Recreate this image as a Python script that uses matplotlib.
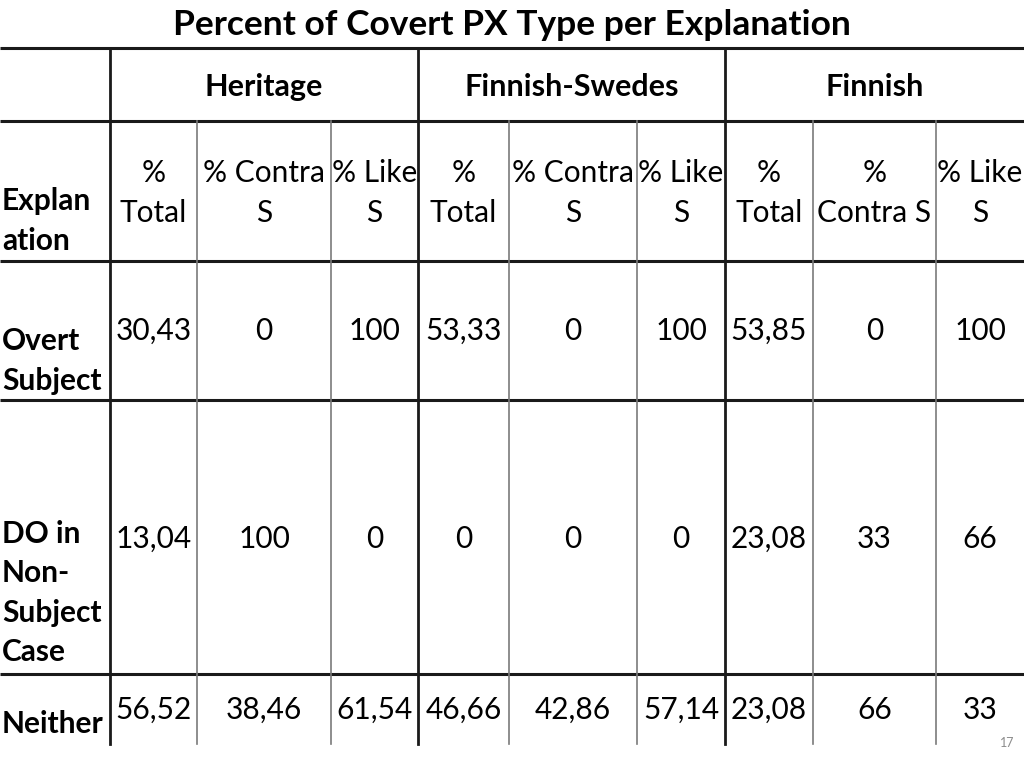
import matplotlib
matplotlib.use("Agg")
import matplotlib.pyplot as plt

plt.rcParams['font.family'] = ['Lato', 'DejaVu Sans']

# Table content
title = "Percent of Covert PX Type per Explanation"
groups = ["Heritage", "Finnish-Swedes", "Finnish"]
sub_heads = ["%\nTotal", "% Contra\nS", "% Like\nS",
             "%\nTotal", "% Contra\nS", "% Like\nS",
             "%\nTotal", "%\nContra S", "% Like\nS"]
row_labels = ["Overt\nSubject", "DO in\nNon-\nSubject\nCase", "Neither"]
heritage = [["30,43", "0", "100"], ["13,04", "100", "0"], ["56,52", "38,46", "61,54"]]
fin_swedes = [["53,33", "0", "100"], ["0", "0", "0"], ["46,66", "42,86", "57,14"]]
finnish = [["53,85", "0", "100"], ["23,08", "33", "66"], ["23,08", "66", "33"]]
page_no = "17"

# layout in pixels
col_x = [0, 110, 197, 331, 418, 509, 637, 725, 813, 936, 1024]
row_y = [48, 121, 261, 400, 674, 744]
thick = "#1a1a1a"
thin = "#7a7a7a"

fig = plt.figure(figsize=(10.24, 7.68), dpi=100)
ax = fig.add_axes([0, 0, 1, 1])
ax.set_xlim(0, 1024)
ax.set_ylim(768, 0)
ax.axis("off")

ax.text(512, 25, title, ha="center", va="center", fontsize=25.5, fontweight="bold")

# horizontal rules
for y in row_y[:-1]:
    ax.plot([0, 1024], [y, y], color=thick, lw=2.2, solid_capstyle="butt")
# vertical rules
for i, x in enumerate(col_x[1:-1], start=1):
    if (i - 1) % 3 == 0:
        ax.plot([x, x], [row_y[0], row_y[-1]], color=thick, lw=2.0)
    else:
        ax.plot([x, x], [row_y[1], row_y[-1]], color=thin, lw=1.2)

# group headers
for g, name in enumerate(groups):
    cx = (col_x[1 + 3 * g] + col_x[4 + 3 * g]) / 2
    ax.text(cx, 87, name, ha="center", va="center", fontsize=22, fontweight="bold")

centers = [(col_x[i] + col_x[i + 1]) / 2 for i in range(1, 10)]
for cx, h in zip(centers, sub_heads):
    ax.text(cx, 193, h, ha="center", va="center", fontsize=21.5, linespacing=1.5)

ax.text(2, 221, "Explan\nation", ha="left", va="center", fontsize=21.5,
        fontweight="bold", linespacing=1.5)

label_y = [361, 593, 724]
value_y = [331, 539, 710]
for r in range(3):
    ax.text(2, label_y[r], row_labels[r], ha="left", va="center", fontsize=21.5,
            fontweight="bold", linespacing=1.5)
    vals = heritage[r] + fin_swedes[r] + finnish[r]
    for cx, v in zip(centers, vals):
        ax.text(cx, value_y[r], v, ha="center", va="center", fontsize=21.5)

ax.text(1007, 743, page_no, ha="center", va="center", fontsize=9, color="#8c8c8c")

fig.savefig("out.png", dpi=100)
